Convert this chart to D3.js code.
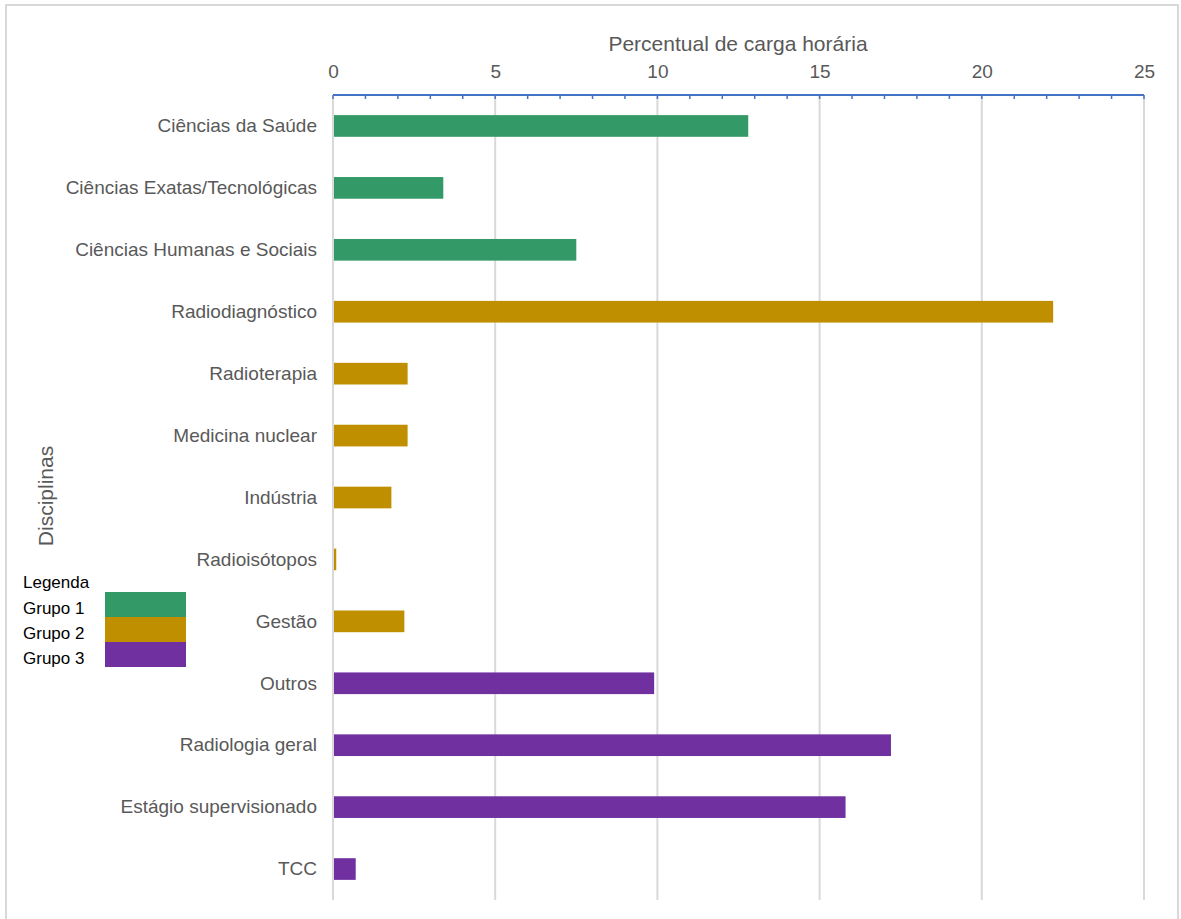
<!DOCTYPE html>
<html>
<head>
<meta charset="utf-8">
<script src="https://cdn.jsdelivr.net/npm/d3@7"></script>
<style>
  html, body { margin: 0; padding: 0; background: #fff; }
  svg { display: block; font-family: "Liberation Sans", Arial, sans-serif; }
</style>
</head>
<body>
<svg id="chart" width="1181" height="919"></svg>
<script>
const categories = [
  "Ciências da Saúde",
  "Ciências Exatas/Tecnológicas",
  "Ciências Humanas e Sociais",
  "Radiodiagnóstico",
  "Radioterapia",
  "Medicina nuclear",
  "Indústria",
  "Radioisótopos",
  "Gestão",
  "Outros",
  "Radiologia geral",
  "Estágio supervisionado",
  "TCC"
];
const values = [12.8, 3.4, 7.5, 22.2, 2.3, 2.3, 1.8, 0.1, 2.2, 9.9, 17.2, 15.8, 0.7];
const groups = [1, 1, 1, 2, 2, 2, 2, 2, 2, 3, 3, 3, 3];
const groupNames = ["Grupo 1", "Grupo 2", "Grupo 3"];
const groupColors = ["#339966", "#BF8F00", "#7030A0"];
const xTicks = [0, 5, 10, 15, 20, 25];
const xTitle = "Percentual de carga horária";
const yTitle = "Disciplinas";
const legendTitle = "Legenda";

const svg = d3.select("#chart");

// outer frame
svg.append("rect")
  .attr("x", 6).attr("y", 5)
  .attr("width", 1172).attr("height", 930)
  .attr("fill", "none").attr("stroke", "#d9d9d9").attr("stroke-width", 2);

const pLeft = 333, pRight = 1144, pTop = 95, pBottom = 900;

const x = d3.scaleLinear().domain([0, 25]).range([pLeft, pRight]);
const y = d3.scaleBand().domain(categories).range([pTop, pBottom]).paddingInner(0.65).paddingOuter(0.325);
const color = d3.scaleOrdinal().domain([1, 2, 3]).range(groupColors);

// gridlines
svg.append("g")
  .selectAll("line")
  .data(xTicks)
  .join("line")
  .attr("x1", d => x(d)).attr("x2", d => x(d))
  .attr("y1", pTop).attr("y2", pBottom)
  .attr("stroke", "#d9d9d9").attr("stroke-width", 2);

// bars
svg.append("g")
  .selectAll("rect")
  .data(categories)
  .join("rect")
  .attr("x", x(0) + 1)
  .attr("y", d => y(d))
  .attr("width", (d, i) => Math.max(0, x(values[i]) - x(0) - 1))
  .attr("height", y.bandwidth())
  .attr("fill", (d, i) => color(groups[i]));

// top axis with minor ticks
const minor = d3.range(0, 26, 1);
svg.append("g")
  .selectAll("line")
  .data(minor)
  .join("line")
  .attr("x1", d => x(d)).attr("x2", d => x(d))
  .attr("y1", pTop).attr("y2", pTop + 4)
  .attr("stroke", "#4472C4").attr("stroke-width", 1.5);
svg.append("line")
  .attr("x1", x(0)).attr("x2", x(25))
  .attr("y1", pTop).attr("y2", pTop)
  .attr("stroke", "#4472C4").attr("stroke-width", 2);

const axis = d3.axisTop(x).tickValues(xTicks).tickSize(0).tickPadding(0);
const gAxis = svg.append("g").attr("transform", `translate(0, 78)`).call(axis);
gAxis.select(".domain").remove();
gAxis.selectAll("text")
  .attr("fill", "#595959")
  .attr("dy", "0")
  .style("font-size", "19px")
  .style("font-family", "Liberation Sans, Arial, sans-serif");

// category labels
svg.append("g")
  .selectAll("text")
  .data(categories)
  .join("text")
  .attr("x", 317)
  .attr("y", d => y(d) + y.bandwidth() / 2)
  .attr("dy", "0.33em")
  .attr("text-anchor", "end")
  .attr("fill", "#595959")
  .style("font-size", "19px")
  .text(d => d);

// axis titles
svg.append("text")
  .attr("x", 738)
  .attr("y", 51)
  .attr("text-anchor", "middle")
  .attr("fill", "#595959")
  .style("font-size", "21px")
  .text(xTitle);

svg.append("text")
  .attr("transform", `translate(53, 496) rotate(-90)`)
  .attr("text-anchor", "middle")
  .attr("fill", "#595959")
  .style("font-size", "21px")
  .text(yTitle);

// legend
const lg = svg.append("g");
lg.append("text")
  .attr("x", 23).attr("y", 588)
  .attr("fill", "#000")
  .style("font-size", "17px")
  .text(legendTitle);
groupNames.forEach((g, i) => {
  lg.append("rect")
    .attr("x", 105).attr("y", 592 + i * 25)
    .attr("width", 81).attr("height", 25)
    .attr("fill", groupColors[i]);
  lg.append("text")
    .attr("x", 23).attr("y", 614 + i * 25)
    .attr("fill", "#000")
    .style("font-size", "17px")
    .text(g);
});
</script>
</body>
</html>
